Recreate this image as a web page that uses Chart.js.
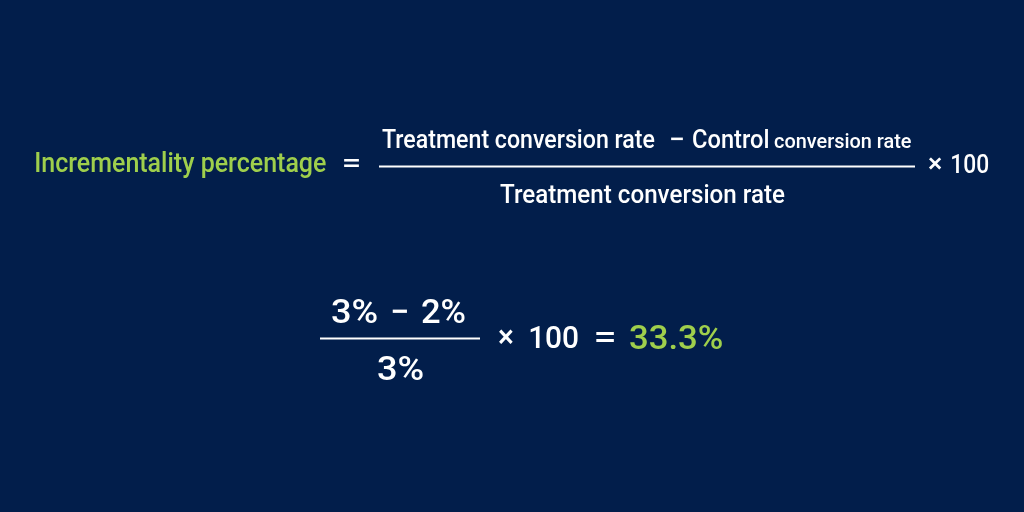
<!DOCTYPE html>
<html>
<head>
<meta charset="utf-8">
<script src="https://cdn.jsdelivr.net/npm/chart.js@4"></script>
<style>
  html, body { margin: 0; padding: 0; background: #021e4b; }
  canvas { display: block; }
</style>
</head>
<body>
<canvas id="myChart" width="1024" height="512"></canvas>
<script>
// formula pieces
const resultLabel = ['Incrementality percentage'];
const numeratorTerms = ['Treatment conversion rate', 'Control'];
const numeratorSmall = ['conversion rate'];
const denominatorTerms = ['Treatment conversion rate'];

// the worked example
const rates = [3, 2];          // treatment %, control %
const multiplier = [100];
const result = [33.3];

const navy = '#021e4b';
const green = '#9fcf4c';
const white = '#ffffff';
const FONT = 'Roboto, "Noto Sans", sans-serif';

const formulaPlugin = {
	id: 'formula',
	beforeDraw(chart) {
		const ctx = chart.ctx;
		ctx.save();
		ctx.fillStyle = navy;
		ctx.fillRect(0, 0, chart.width, chart.height);
		ctx.restore();
	},
	afterDraw(chart) {
		const ctx = chart.ctx;
		const sx = v => chart.scales.x.getPixelForValue(v);
		const sy = v => chart.scales.y.getPixelForValue(v);

		// draw a string so its ink runs from x1 to x2 on the given baseline
		function fit(str, x1, x2, base, size, color) {
			ctx.font = '500 ' + size + 'px ' + FONT;
			ctx.fillStyle = color;
			ctx.textAlign = 'left';
			ctx.textBaseline = 'alphabetic';
			const m = ctx.measureText(str);
			const ink = m.actualBoundingBoxLeft + m.actualBoundingBoxRight;
			const k = (sx(x2) - sx(x1)) / ink;
			ctx.save();
			ctx.translate(sx(x1), sy(base));
			ctx.scale(k, 1);
			ctx.fillText(str, m.actualBoundingBoxLeft, 0);
			ctx.restore();
		}
		function rule(x1, x2, y, w) {
			ctx.strokeStyle = white;
			ctx.lineWidth = w;
			ctx.beginPath();
			ctx.moveTo(sx(x1), sy(y));
			ctx.lineTo(sx(x2), sy(y));
			ctx.stroke();
		}

		ctx.save();
		// general formula
		fit(resultLabel[0], 36, 326, 172, 27, green);
		fit('=', 343, 359, 172, 26, white);
		fit(numeratorTerms[0], 382, 655, 148, 26, white);
		fit('\u2212', 670, 683, 148, 26, white);
		fit(numeratorTerms[1], 693, 768, 148, 26, white);
		fit(numeratorSmall[0], 774, 911, 148, 19.5, white);
		rule(379, 915, 166.5, 2);
		fit(denominatorTerms[0], 500, 785, 203, 26, white);
		fit('\u00d7', 928, 942, 172, 25, white);
		fit(String(multiplier[0]), 952, 988, 173, 25, white);

		// worked example
		fit(rates[0] + '%', 332, 377, 323, 34, white);
		fit('\u2212', 392, 407, 323, 34, white);
		fit(rates[1] + '%', 422, 465, 323, 34, white);
		rule(320, 480, 338.5, 2);
		fit(rates[0] + '%', 378, 423, 380, 34, white);
		fit('\u00d7', 499, 513, 347, 32, white);
		fit(String(multiplier[0]), 530, 578, 348, 32, white);
		fit('=', 596, 614, 347, 32, white);
		fit(result[0] + '%', 630, 722, 349, 33, green);
		ctx.restore();
	}
};

let chart1 = new Chart(document.getElementById('myChart').getContext('2d'), {
	type: 'scatter',
	data: { datasets: [] },
	options: {
		responsive: false,
		animation: false,
		layout: { padding: 0 },
		scales: {
			x: { type: 'linear', min: 0, max: 1024, display: false },
			y: { type: 'linear', min: 0, max: 512, reverse: true, display: false }
		},
		plugins: {
			legend: { display: false },
			tooltip: { enabled: false }
		}
	},
	plugins: [formulaPlugin]
});
</script>
</body>
</html>
